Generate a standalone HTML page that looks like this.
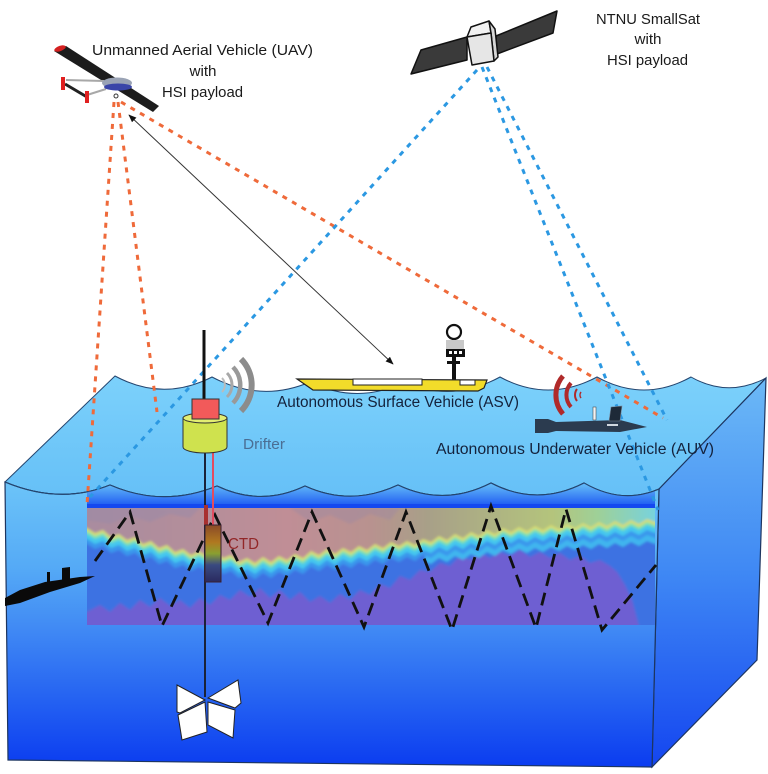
<!DOCTYPE html>
<html><head><meta charset="utf-8">
<style>
html,body{margin:0;padding:0;background:#fff;}
svg{display:block;}
text{font-family:"Liberation Sans",Arial,sans-serif;}
</style></head><body>
<svg width="768" height="774" viewBox="0 0 768 774" xmlns="http://www.w3.org/2000/svg">
<defs>
<linearGradient id="gTop" x1="0" y1="375" x2="0" y2="495" gradientUnits="userSpaceOnUse">
 <stop offset="0" stop-color="#7cd1fb"/><stop offset="1" stop-color="#66c0f7"/>
</linearGradient>
<linearGradient id="gFront" x1="0" y1="482" x2="0" y2="767" gradientUnits="userSpaceOnUse">
 <stop offset="0" stop-color="#6cc4f8"/>
 <stop offset="0.3" stop-color="#55aaf6"/>
 <stop offset="0.5" stop-color="#428cf4"/>
 <stop offset="0.75" stop-color="#2664f2"/>
 <stop offset="1" stop-color="#0b3cf0"/>
</linearGradient>
<linearGradient id="gRight" x1="0" y1="378" x2="0" y2="768" gradientUnits="userSpaceOnUse">
 <stop offset="0" stop-color="#6cb9f6"/>
 <stop offset="0.5" stop-color="#3f88f4"/>
 <stop offset="1" stop-color="#1445f0"/>
</linearGradient>
<linearGradient id="gStrip" x1="0" y1="486" x2="0" y2="508" gradientUnits="userSpaceOnUse">
 <stop offset="0" stop-color="#5eb4f7"/>
 <stop offset="0.6" stop-color="#3478f4"/>
 <stop offset="1" stop-color="#1550f2"/>
</linearGradient>
<linearGradient id="gPanelTop" x1="87" y1="0" x2="655" y2="0" gradientUnits="userSpaceOnUse">
 <stop offset="0" stop-color="#a98c9f"/>
 <stop offset="0.2" stop-color="#b48e9a"/>
 <stop offset="0.35" stop-color="#c08e96"/>
 <stop offset="0.5" stop-color="#b8928f"/>
 <stop offset="0.6" stop-color="#a8a088"/>
 <stop offset="0.72" stop-color="#aeb482"/>
 <stop offset="0.82" stop-color="#b4c47c"/>
 <stop offset="0.9" stop-color="#9ed098"/>
 <stop offset="1" stop-color="#78d2dc"/>
</linearGradient>
<linearGradient id="gCTD" x1="0" y1="525" x2="0" y2="582" gradientUnits="userSpaceOnUse">
 <stop offset="0" stop-color="#8a4a28"/>
 <stop offset="0.3" stop-color="#b07820"/>
 <stop offset="0.5" stop-color="#8aa030"/>
 <stop offset="0.7" stop-color="#3a4a80"/>
 <stop offset="1" stop-color="#2a2a60"/>
</linearGradient>
<filter id="blur" x="-5%" y="-20%" width="110%" height="140%"><feGaussianBlur stdDeviation="1.4"/></filter>
<clipPath id="cpPanel"><rect x="87" y="508" width="568" height="117"/></clipPath>
<clipPath id="cpRight"><rect x="425" y="490" width="240" height="150"/></clipPath>
<clipPath id="cpFront"><path d="M5,482 Q60,505 110,485 Q163,508 217,486 Q261,507 305,486 Q351,507 398,485 Q444,507 491,483 Q537,507 584,483 Q622,505 659,489 L652,767 L8,760 Z"/></clipPath>
<marker id="arr" viewBox="0 0 10 8" refX="9" refY="4" markerWidth="8" markerHeight="7" markerUnits="userSpaceOnUse" orient="auto-start-reverse">
 <path d="M0,0 L10,4 L0,8 z" fill="#111"/>
</marker>
<polygon id="tp" points="80,500 80,528 87,528 95,533 103,530 111,537 119,534 127,540 135,537 143,544 151,541 159,548 167,545 175,552 183,549 191,555 199,551 207,556 215,550 223,558 231,555 239,562 247,558 255,563 263,557 271,562 279,556 287,560 295,554 303,558 311,551 319,555 327,549 335,554 343,548 351,552 359,546 367,550 375,544 383,548 391,542 399,546 407,541 415,545 423,539 431,542 439,536 447,540 455,534 463,538 471,532 479,536 487,530 495,534 503,528 511,532 519,527 527,531 535,526 543,530 551,525 559,529 567,524 575,528 583,523 591,527 599,522 607,526 615,521 623,525 631,520 639,524 647,519 655,522 662,522 662,500"/>
</defs>

<!-- water volume -->
<path d="M5,482 L115,376 Q163,402 212,377 Q261,403 310,382 Q357,405 405,382 Q452,403 500,377 Q548,403 597,377 Q644,403 691,377 Q728,398 766,378 L659,489 Q622,505 584,483 Q537,507 491,483 Q444,507 398,485 Q351,507 305,486 Q261,507 217,486 Q163,508 110,485 Q60,505 5,482 Z" fill="url(#gTop)" stroke="#24456f" stroke-width="1"/>
<path d="M659,489 L766,378 L757,660 L652,767 Z" fill="url(#gRight)" stroke="#1d3560" stroke-width="1.2"/>
<path d="M5,482 Q60,505 110,485 Q163,508 217,486 Q261,507 305,486 Q351,507 398,485 Q444,507 491,483 Q537,507 584,483 Q622,505 659,489 L652,767 L8,760 Z" fill="url(#gFront)" stroke="#1d3560" stroke-width="1.2"/>
<g clip-path="url(#cpFront)">
 <rect x="87" y="478" width="568" height="30" fill="url(#gStrip)"/>
 <rect x="87" y="504" width="568" height="4" fill="#1448f0"/>
</g>
<path d="M5,482 Q60,505 110,485 Q163,508 217,486 Q261,507 305,486 Q351,507 398,485 Q444,507 491,483 Q537,507 584,483 Q622,505 659,489" fill="none" stroke="#24456f" stroke-width="1"/>

<!-- data panel -->
<g clip-path="url(#cpPanel)">
 <g filter="url(#blur)">
  <rect x="80" y="500" width="585" height="135" fill="#6e5fd2"/>
  <polygon points="80,500 662,500 662,630 640,630 632,600 625,585 617,572 610,566 600,560 590,563 580,556 570,560 560,553 550,558 540,552 530,557 520,550 510,556 500,552 490,558 480,553 470,560 460,556 450,566 440,563 430,572 420,570 410,580 400,576 390,588 380,584 370,595 360,590 350,600 340,594 330,603 320,596 310,602 300,592 290,600 280,590 270,598 260,588 250,597 240,590 230,600 220,595 210,605 200,598 190,608 180,600 170,606 160,598 150,607 140,600 130,610 120,603 110,612 100,605 87,612 80,612" fill="#3e72e2"/>
  <g clip-path="url(#cpRight)"><use href="#tp" transform="translate(0,22)" fill="#3fb6ee"/></g>
  <use href="#tp" transform="translate(0,16)" fill="#3b96ec"/>
  <use href="#tp" transform="translate(0,11)" fill="#44c8ee"/>
  <use href="#tp" transform="translate(0,6)" fill="#7ee0b0"/>
  <use href="#tp" transform="translate(0,3)" fill="#d6dc74"/>
  <use href="#tp" fill="url(#gPanelTop)"/>
  <polygon points="87,508 200,508 190,518 170,514 150,522 130,516 110,524 87,520" fill="#9c8aa6" opacity="0.6"/>
  <polygon points="290,508 400,508 390,520 370,514 350,524 330,515 310,522" fill="#a08aa0" opacity="0.5"/>
 </g>
</g>

<!-- AUV trajectory -->
<path d="M95,561 L130,512 L162,626 L215,515 L268,623 L312,512 L364,627 L406,512 L452,630 L491,506 L536,628 L566,509 L602,630 L656,565" fill="none" stroke="#111" stroke-width="2.8" stroke-dasharray="13 7"/>

<!-- drifter tether, CTD -->
<line x1="205" y1="453" x2="205" y2="697" stroke="#1a2238" stroke-width="2"/>
<rect x="204" y="505" width="4" height="20" fill="#a83030"/>
<line x1="213" y1="420" x2="213" y2="526" stroke="#e24c60" stroke-width="2"/>
<rect x="205" y="525" width="16" height="57" fill="url(#gCTD)" stroke="#3a2030" stroke-width="1"/>
<text x="228" y="549" font-size="15.5" fill="#8e1c1c" textLength="31" lengthAdjust="spacingAndGlyphs" opacity="0.9">CTD</text>

<!-- drogue -->
<g fill="#fff" stroke="#222" stroke-width="1">
 <polygon points="177,685 205,700 180,713 177,712"/>
 <polygon points="208,698 238,680 241,703 235,708"/>
 <polygon points="178,715 205,702 207,732 182,740"/>
 <polygon points="208,702 235,710 233,738 208,725"/>
</g>

<!-- dotted lines -->
<g fill="none" stroke-width="3" stroke-dasharray="5 6">
 <line x1="114" y1="102" x2="87" y2="505" stroke="#ef6a3a"/>
 <line x1="118" y1="102" x2="157" y2="412" stroke="#ef6a3a"/>
 <line x1="121" y1="102" x2="663" y2="418" stroke="#ef6a3a"/>
 <line x1="477" y1="70" x2="90" y2="497" stroke="#2b98e2"/>
 <line x1="482" y1="67" x2="658" y2="510" stroke="#2b98e2"/>
 <line x1="487" y1="67" x2="667" y2="420" stroke="#2b98e2"/>
</g>

<!-- communication arrow -->
<line x1="129" y1="115" x2="393" y2="364" stroke="#333" stroke-width="1" marker-start="url(#arr)" marker-end="url(#arr)"/>

<!-- drifter -->
<line x1="204" y1="330" x2="204" y2="400" stroke="#111" stroke-width="3"/>
<g fill="none" stroke-linecap="butt">
 <path d="M241,359 A37,37 0 0 1 241,411" stroke="#8c8c8c" stroke-width="6"/>
 <path d="M233,367 A26,26 0 0 1 233,403" stroke="#999" stroke-width="4.5"/>
 <path d="M227,373 A17,17 0 0 1 227,397" stroke="#a8a8a8" stroke-width="3"/>
 <path d="M222,378 A10,10 0 0 1 222,392" stroke="#bbb" stroke-width="2"/>
</g>
<path d="M183,418 L183,447 A22,6 0 0 0 227,447 L227,418 Z" fill="#cfe24e" stroke="#333" stroke-width="1"/>
<ellipse cx="205" cy="418" rx="22" ry="5" fill="#e2ee72" stroke="#333" stroke-width="1"/>
<rect x="192" y="399" width="27" height="20" fill="#f25a5a" stroke="#333" stroke-width="1"/>
<text x="243" y="449" font-size="15" fill="#4a6e94" textLength="42" lengthAdjust="spacingAndGlyphs">Drifter</text>

<!-- ASV -->
<circle cx="454" cy="332" r="7" fill="#fff" stroke="#111" stroke-width="2.2"/>
<rect x="446" y="340" width="18" height="9" fill="#c8c8c8"/>
<rect x="446" y="349" width="19" height="8" fill="#111"/>
<rect x="449" y="351" width="3" height="3" fill="#fff"/>
<rect x="454" y="351" width="3" height="3" fill="#fff"/>
<rect x="459" y="351" width="3" height="3" fill="#fff"/>
<rect x="452" y="357" width="4" height="24" fill="#111"/>
<rect x="447" y="361" width="13" height="3" fill="#111"/>
<polygon points="297,379 487,380 484,388 478,391 313,390" fill="#f2dc2a" stroke="#222" stroke-width="1.2"/>
<rect x="353" y="379" width="69" height="6" fill="#fff" stroke="#222" stroke-width="1"/>
<rect x="460" y="380" width="15" height="5" fill="#fff" stroke="#222" stroke-width="1"/>
<text x="277" y="407" font-size="15.3" fill="#14223c" textLength="242" lengthAdjust="spacingAndGlyphs">Autonomous Surface Vehicle (ASV)</text>

<!-- AUV right -->
<g fill="none" stroke="#b02a2a">
 <path d="M563,376 A29,29 0 0 0 563,414" stroke-width="5"/>
 <path d="M571,383 A18,18 0 0 0 571,407" stroke-width="4"/>
 <path d="M577,389 A10,10 0 0 0 577,401" stroke-width="2"/>
 <path d="M581,392 A5,5 0 0 0 581,398" stroke-width="1.5"/>
</g>
<polygon points="535,419 548,419 556,422 620,420 647,427 620,432 556,431 548,433 535,433" fill="#2b3b4f"/>
<polygon points="611,407 622,406 620,421 609,421" fill="#1e2a38" stroke="#7a8898" stroke-width="0.6"/>
<rect x="593" y="407" width="3" height="13" fill="#f2f2f2" stroke="#333" stroke-width="0.5"/>
<rect x="607" y="424" width="11" height="2" fill="#d0d8e0"/>
<text x="436" y="454" font-size="15.3" fill="#14223c" textLength="278" lengthAdjust="spacingAndGlyphs">Autonomous Underwater Vehicle (AUV)</text>

<!-- left AUV silhouette -->
<polygon points="5,598 20,590 45,582 80,577 95,576 80,583 50,592 20,603 5,606" fill="#0a0a0a"/>
<polygon points="62,568 70,567 70,580 62,582" fill="#0a0a0a"/>
<rect x="47" y="572" width="3" height="11" fill="#0a0a0a"/>

<!-- UAV -->
<polygon points="54,51 66,46 159,106 153,112" fill="#1c1c1c"/>
<ellipse cx="60" cy="48.5" rx="6" ry="2.6" transform="rotate(-20 60 48.5)" fill="#d42020"/>
<line x1="66" y1="80" x2="104" y2="81" stroke="#a8a8a8" stroke-width="2"/>
<line x1="87" y1="95" x2="106" y2="89" stroke="#a8a8a8" stroke-width="2"/>
<line x1="65" y1="84" x2="87" y2="97" stroke="#222" stroke-width="3"/>
<rect x="61" y="77" width="4" height="13" fill="#e02020"/>
<rect x="85" y="91" width="4" height="12" fill="#e02020"/>
<ellipse cx="117" cy="83" rx="15" ry="5.5" fill="#9aa3b5"/>
<ellipse cx="118" cy="87" rx="14" ry="3.5" fill="#3a45a8"/>
<circle cx="116" cy="96" r="2" fill="none" stroke="#333" stroke-width="1"/>

<!-- satellite -->
<g stroke="#111" stroke-width="1.5" stroke-linejoin="round">
 <polygon points="411,74 421,50 467,37 467,60" fill="#3a3a3a"/>
 <polygon points="496,36 557,11 553,33 497,54" fill="#3a3a3a"/>
 <polygon points="467,37 471,27 489,21 491,33" fill="#f2f2f2"/>
 <polygon points="489,21 495,29 498,57 494,61 491,33" fill="#d6d6d6"/>
 <polygon points="467,37 491,33 494,61 472,65" fill="#e6e6e6"/>
</g>

<!-- labels -->
<g font-size="15.2" fill="#1a1a1a">
 <text x="92" y="55" textLength="221" lengthAdjust="spacingAndGlyphs">Unmanned Aerial Vehicle (UAV)</text>
 <text x="203" y="76" text-anchor="middle">with</text>
 <text x="162" y="97" textLength="81" lengthAdjust="spacingAndGlyphs">HSI payload</text>
 <text x="596" y="24" textLength="104" lengthAdjust="spacingAndGlyphs">NTNU SmallSat</text>
 <text x="648" y="44" text-anchor="middle">with</text>
 <text x="607" y="65" textLength="81" lengthAdjust="spacingAndGlyphs">HSI payload</text>
</g>
</svg>
</body></html>
